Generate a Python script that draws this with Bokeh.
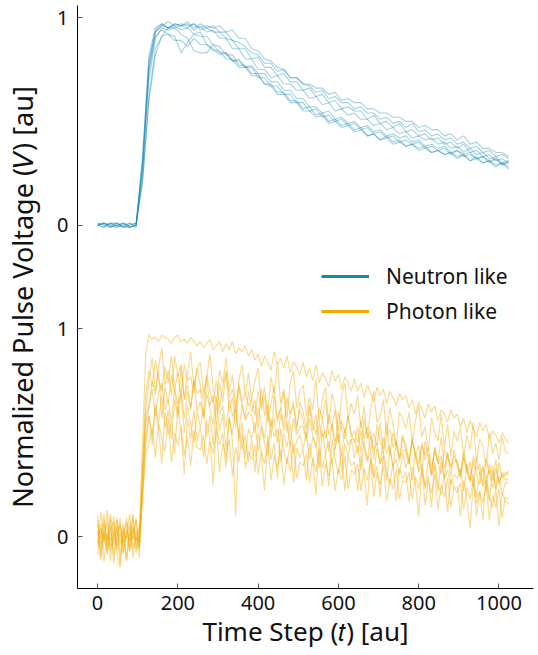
from bokeh.plotting import figure
from bokeh.models import Range1d, Legend, LegendItem, FixedTicker
from bokeh.embed import file_html
from bokeh.resources import INLINE

# ---------------- data ----------------
T_NEUTRON = list(range(0, 1025, 16))   # neutron pulses sampled every 16 steps
T_PHOTON = list(range(0, 1025, 8))     # photon pulses sampled every 8 steps
NEUTRON_OFFSET = 1.5                   # vertical stacking offset of the neutron panel

neutron_traces = [
    [0.00, 0.01, -0.01, 0.00, 0.01, -0.01, 0.00,
     0.33, 0.82, 0.95, 0.97, 0.95, 0.97, 0.96, 0.98, 0.95, 0.97, 0.95, 0.96, 0.93, 0.93, 0.89, 0.88,
     0.86, 0.83, 0.82, 0.78, 0.78, 0.74, 0.75, 0.71, 0.71, 0.68, 0.68, 0.66, 0.66, 0.63, 0.64, 0.60,
     0.61, 0.59, 0.59, 0.56, 0.56, 0.54, 0.54, 0.52, 0.52, 0.50, 0.50, 0.47, 0.48, 0.46, 0.46, 0.43,
     0.44, 0.41, 0.43, 0.39, 0.40, 0.37, 0.37, 0.35, 0.35, 0.33],
    [0.01, 0.00, 0.01, -0.01, 0.00, 0.01, -0.01,
     0.28, 0.75, 0.93, 0.96, 0.98, 0.96, 0.97, 0.96, 0.97, 0.95, 0.96, 0.95, 0.96, 0.93, 0.94, 0.90,
     0.90, 0.85, 0.84, 0.80, 0.79, 0.76, 0.75, 0.71, 0.71, 0.68, 0.67, 0.64, 0.65, 0.61, 0.62, 0.59,
     0.59, 0.56, 0.57, 0.54, 0.54, 0.51, 0.52, 0.49, 0.50, 0.47, 0.49, 0.45, 0.46, 0.43, 0.44, 0.41,
     0.42, 0.39, 0.40, 0.37, 0.38, 0.35, 0.36, 0.33, 0.34, 0.32],
    [0.00, -0.01, 0.01, 0.00, -0.01, 0.01, 0.00,
     0.22, 0.60, 0.82, 0.91, 0.95, 0.95, 0.96, 0.95, 0.97, 0.94, 0.95, 0.93, 0.93, 0.90, 0.89, 0.85,
     0.85, 0.80, 0.81, 0.76, 0.76, 0.72, 0.73, 0.69, 0.69, 0.65, 0.66, 0.62, 0.63, 0.59, 0.60, 0.56,
     0.57, 0.55, 0.55, 0.51, 0.53, 0.49, 0.50, 0.47, 0.49, 0.45, 0.46, 0.43, 0.44, 0.41, 0.42, 0.39,
     0.40, 0.37, 0.39, 0.35, 0.36, 0.33, 0.34, 0.31, 0.32, 0.30],
    [0.00, -0.01, 0.01, 0.01, 0.00, -0.01, 0.00,
     0.30, 0.78, 0.94, 0.97, 0.95, 0.97, 0.96, 0.97, 0.94, 0.96, 0.93, 0.94, 0.90, 0.90, 0.85, 0.85,
     0.80, 0.80, 0.75, 0.75, 0.71, 0.72, 0.68, 0.68, 0.65, 0.65, 0.61, 0.62, 0.58, 0.59, 0.55, 0.56,
     0.53, 0.54, 0.51, 0.51, 0.48, 0.49, 0.46, 0.47, 0.44, 0.45, 0.42, 0.43, 0.41, 0.42, 0.39, 0.40,
     0.37, 0.38, 0.35, 0.37, 0.34, 0.35, 0.32, 0.33, 0.30, 0.31],
    [0.00, 0.01, 0.00, -0.01, 0.01, -0.01, 0.00,
     0.25, 0.70, 0.90, 0.95, 0.94, 0.95, 0.92, 0.90, 0.84, 0.83, 0.83, 0.87, 0.83, 0.83, 0.79, 0.80,
     0.76, 0.76, 0.71, 0.71, 0.67, 0.67, 0.63, 0.63, 0.59, 0.59, 0.55, 0.56, 0.52, 0.53, 0.50, 0.51,
     0.48, 0.49, 0.46, 0.47, 0.44, 0.45, 0.42, 0.43, 0.40, 0.41, 0.39, 0.40, 0.37, 0.38, 0.36, 0.37,
     0.34, 0.36, 0.33, 0.34, 0.32, 0.33, 0.30, 0.32, 0.29, 0.30],
    [0.01, 0.00, -0.01, 0.01, -0.01, 0.00, 0.01,
     0.20, 0.62, 0.85, 0.91, 0.92, 0.89, 0.89, 0.86, 0.90, 0.87, 0.87, 0.84, 0.84, 0.80, 0.80, 0.76,
     0.76, 0.72, 0.72, 0.68, 0.67, 0.63, 0.63, 0.59, 0.59, 0.55, 0.55, 0.52, 0.53, 0.49, 0.50, 0.47,
     0.48, 0.45, 0.46, 0.43, 0.44, 0.41, 0.42, 0.39, 0.40, 0.38, 0.39, 0.36, 0.37, 0.35, 0.36, 0.34,
     0.35, 0.32, 0.34, 0.31, 0.32, 0.30, 0.31, 0.28, 0.30, 0.28],
    [0.00, 0.01, -0.01, 0.00, 0.01, 0.00, 0.01,
     0.27, 0.74, 0.91, 0.94, 0.92, 0.91, 0.83, 0.88, 0.92, 0.91, 0.91, 0.87, 0.86, 0.82, 0.82, 0.77,
     0.77, 0.73, 0.73, 0.68, 0.68, 0.64, 0.64, 0.60, 0.60, 0.56, 0.57, 0.53, 0.54, 0.50, 0.51, 0.48,
     0.49, 0.46, 0.47, 0.43, 0.44, 0.41, 0.43, 0.40, 0.41, 0.38, 0.39, 0.37, 0.38, 0.35, 0.36, 0.34,
     0.35, 0.33, 0.34, 0.31, 0.33, 0.30, 0.31, 0.29, 0.30, 0.27],
    [0.00, 0.01, 0.00, 0.01, -0.01, -0.01, 0.00,
     0.31, 0.79, 0.93, 0.96, 0.95, 0.96, 0.94, 0.95, 0.92, 0.93, 0.87, 0.85, 0.82, 0.83, 0.79, 0.79,
     0.76, 0.77, 0.73, 0.73, 0.69, 0.69, 0.65, 0.65, 0.61, 0.61, 0.57, 0.57, 0.54, 0.55, 0.51, 0.52,
     0.49, 0.50, 0.47, 0.48, 0.45, 0.46, 0.43, 0.44, 0.42, 0.43, 0.40, 0.41, 0.38, 0.39, 0.37, 0.38,
     0.35, 0.36, 0.34, 0.35, 0.32, 0.33, 0.31, 0.32, 0.29, 0.31],
]

# photon pulses, in hundredths of the normalized voltage
photon_traces_pct = [
    [3, -6, 8, -2, 5, -9, 3, 6, -4, 1, -7, 4, -2, 5, 45, 88,
     97, 95, 96, 94, 97, 96, 95, 93, 96, 97, 94, 95, 93, 96, 94, 92,
     94, 91, 93, 95, 90, 92, 94, 89, 93, 90, 94, 88, 91, 89, 92, 87,
     90, 85, 88, 82, 87, 84, 80, 89, 83, 86, 81, 87, 79, 84, 82, 78,
     84, 77, 81, 75, 83, 74, 79, 76, 72, 80, 75, 78, 71, 77, 74, 70,
     76, 70, 74, 67, 73, 69, 65, 72, 68, 71, 64, 70, 67, 63, 69, 66,
     68, 62, 66, 59, 65, 61, 57, 64, 60, 63, 56, 61, 59, 55, 61, 57,
     59, 53, 57, 50, 56, 52, 48, 55, 51, 54, 47, 51, 49, 45, 50, 47,
     45],
    [-5, 12, -2, 7, -12, 3, -4, 9, -8, 2, 11, -6, 0, -3, 30, 62,
     75, 86, 70, 82, 91, 73, 80, 68, 87, 77, 83, 66, 79, 89, 72, 81,
     84, 69, 77, 88, 71, 65, 80, 74, 86, 70, 78, 62, 75, 83, 68, 79,
     66, 75, 81, 63, 72, 59, 77, 69, 84, 64, 71, 57, 74, 80, 62, 70,
     73, 58, 67, 61, 76, 55, 66, 72, 54, 69, 63, 50, 68, 74, 57, 64,
     59, 68, 52, 63, 47, 61, 70, 55, 58, 66, 49, 62, 54, 44, 60, 57,
     52, 60, 45, 56, 63, 48, 53, 41, 57, 50, 46, 59, 43, 54, 39, 51,
     46, 53, 38, 49, 42, 55, 36, 47, 44, 33, 50, 40, 45, 37, 48, 41,
     40],
    [8, -10, 3, -6, 11, -2, 5, -13, 1, 7, -5, 10, -8, 4, 25, 55,
     62, 75, 68, 80, 57, 72, 64, 78, 70, 59, 82, 66, 73, 61, 76, 69,
     71, 58, 76, 63, 68, 54, 74, 65, 79, 60, 67, 52, 72, 63, 57, 70,
     60, 66, 52, 71, 58, 64, 47, 68, 55, 62, 70, 50, 59, 65, 53, 61,
     56, 48, 63, 51, 59, 44, 57, 66, 49, 54, 42, 60, 52, 47, 58, 50,
     45, 53, 40, 57, 48, 51, 37, 54, 46, 42, 55, 39, 50, 44, 36, 48,
     41, 35, 47, 39, 44, 32, 46, 38, 30, 43, 36, 48, 33, 40, 29, 42,
     34, 28, 39, 31, 36, 24, 38, 30, 33, 22, 35, 27, 37, 25, 31, 29,
     32],
    [-9, 4, -3, 13, -7, 1, 9, -4, 6, -11, 2, -1, 8, -6, 22, 48,
     58, 49, 64, 55, 68, 52, 61, 47, 66, 57, 70, 50, 63, 54, 45, 60,
     53, 62, 48, 58, 44, 65, 51, 59, 42, 57, 49, 63, 46, 55, 38, 52,
     47, 55, 41, 53, 45, 39, 57, 48, 52, 36, 50, 43, 54, 40, 46, 49,
     42, 50, 37, 48, 44, 33, 51, 40, 46, 35, 43, 49, 31, 45, 39, 47,
     38, 44, 32, 46, 36, 41, 29, 43, 35, 39, 27, 42, 34, 37, 30, 40,
     33, 38, 27, 40, 31, 35, 24, 37, 29, 34, 22, 36, 28, 32, 25, 30,
     28, 33, 22, 35, 26, 30, 19, 31, 24, 27, 17, 32, 23, 29, 20, 26,
     26],
    [2, -11, 6, -4, 9, -13, 0, 5, -8, 3, -2, 11, -6, 1, 18, 40,
     45, 52, 38, 55, 47, 41, 57, 36, 50, 44, 53, 39, 48, 34, 51, 43,
     42, 49, 35, 46, 40, 52, 31, 45, 38, 47, 29, 43, 36, 50, 33, 41,
     37, 44, 30, 41, 35, 46, 27, 39, 33, 42, 25, 38, 31, 45, 28, 36,
     34, 40, 26, 38, 31, 42, 24, 35, 29, 37, 22, 33, 27, 39, 23, 32,
     30, 35, 22, 33, 27, 37, 19, 31, 25, 34, 17, 28, 23, 32, 18, 27,
     26, 31, 18, 29, 23, 33, 15, 27, 21, 30, 13, 25, 19, 28, 14, 24,
     21, 26, 13, 24, 18, 28, 10, 22, 16, 25, 8, 20, 14, 23, 9, 19,
     18],
    [10, -4, 1, -9, 4, 7, -6, 2, -3, 9, -7, 5, -1, -10, 35, 68,
     80, 72, 85, 76, 70, 82, 74, 87, 71, 79, 68, 83, 75, 77, 69, 81,
     73, 66, 78, 70, 64, 75, 62, 72, 80, 67, 71, 60, 74, 65, 69, 63,
     66, 58, 70, 61, 68, 55, 64, 72, 57, 62, 53, 67, 59, 63, 51, 65,
     60, 52, 64, 55, 49, 62, 57, 47, 59, 53, 61, 45, 56, 50, 58, 48,
     51, 45, 56, 47, 53, 41, 50, 44, 55, 40, 48, 52, 43, 46, 38, 49,
     44, 37, 47, 40, 35, 45, 39, 43, 33, 41, 36, 30, 42, 38, 34, 39,
     35, 29, 38, 31, 27, 36, 30, 25, 34, 28, 32, 23, 33, 26, 30, 27,
     28],
    [-3, 6, -12, 2, -5, 10, -8, -15, 4, -1, 7, -10, 3, -6, 20, 45,
     58, 44, 62, 52, 35, 60, 49, 55, 40, 63, 51, 30, 57, 47, 61, 46,
     53, 38, 56, 47, 25, 55, 44, 50, 33, 58, 46, 10, 52, 42, 49, 36,
     47, 31, 50, 40, 22, 49, 37, 45, 28, 52, 41, 35, 46, 26, 43, 38,
     42, 27, 45, 36, 20, 44, 33, 40, 24, 47, 37, 30, 41, 22, 39, 34,
     36, 22, 39, 30, 15, 38, 28, 34, 19, 41, 31, 25, 35, 17, 33, 28,
     31, 17, 34, 25, 10, 33, 23, 29, 14, 36, 26, 20, 30, 12, 28, 24,
     24, 10, 27, 18, 4, 26, 16, 22, 8, 29, 19, 14, 23, 5, 21, 17,
     16],
    [6, -1, 11, -7, 0, -4, 8, -9, 3, -12, 5, -2, 9, -5, 28, 58,
     63, 71, 58, 69, 74, 61, 66, 55, 72, 64, 68, 57, 70, 62, 75, 60,
     65, 57, 69, 61, 54, 67, 59, 63, 52, 66, 58, 62, 50, 64, 56, 60,
     58, 50, 62, 54, 47, 60, 53, 57, 45, 59, 51, 55, 44, 57, 49, 53,
     53, 46, 57, 49, 43, 55, 48, 51, 41, 54, 46, 50, 39, 52, 44, 47,
     47, 40, 51, 43, 37, 49, 42, 45, 35, 48, 40, 44, 33, 46, 38, 41,
     42, 35, 46, 38, 32, 44, 37, 40, 30, 43, 35, 39, 28, 41, 33, 36,
     37, 30, 41, 33, 27, 39, 32, 35, 25, 38, 30, 34, 23, 36, 28, 31,
     30],
]

x_ticks = [0, 200, 400, 600, 800, 1000]
y_ticks = [0, 1, 1.5, 2.5]
y_tick_labels = ["0", "1", "0", "1"]
series_labels = ["Neutron like", "Photon like"]

NEUTRON_COLOR = "#1287b3"
PHOTON_COLOR = "#f2aa00"
FONT = "Noto Sans"

# ---------------- figure ----------------
p = figure(width=538, height=655, output_backend="svg", toolbar_location=None,
           x_range=Range1d(-50, 1086), y_range=Range1d(-0.25, 2.558),
           min_border_left=77, min_border_right=5, min_border_top=5, min_border_bottom=67)
p.grid.visible = False
p.outline_line_color = None
p.background_fill_color = "white"
p.border_fill_color = "white"

for tr in photon_traces_pct:
    p.line(T_PHOTON[:len(tr)], [v / 100.0 for v in tr],
           line_color=PHOTON_COLOR, line_alpha=0.42, line_width=1.2)
for tr in neutron_traces:
    p.line(T_NEUTRON[:len(tr)], [v + NEUTRON_OFFSET for v in tr],
           line_color=NEUTRON_COLOR, line_alpha=0.38, line_width=1.1)

# legend proxies (a single undefined point each, so nothing is drawn in the plot)
nan = float("nan")
rn = p.line([nan], [nan], line_color=NEUTRON_COLOR, line_width=3)
rp = p.line([nan], [nan], line_color=PHOTON_COLOR, line_width=3)
legend = Legend(items=[LegendItem(label=series_labels[0], renderers=[rn]),
                       LegendItem(label=series_labels[1], renderers=[rp])],
                location=(244, 263), padding=0, margin=0, spacing=7,
                glyph_width=48, glyph_height=20, label_height=20, label_standoff=17,
                label_text_font=FONT, label_text_font_size="21px", label_text_color="#111111",
                border_line_color=None, background_fill_alpha=0)
p.add_layout(legend)

# axes
for ax in (p.xaxis[0], p.yaxis[0]):
    ax.axis_line_color = "black"
    ax.axis_line_width = 1
    ax.major_tick_in = 5
    ax.major_tick_out = 0
    ax.major_tick_line_color = "#555555"
    ax.minor_tick_line_color = None
    ax.major_label_text_font = FONT
    ax.major_label_text_font_size = "20px"
    ax.major_label_text_color = "#111111"
    ax.axis_label_text_font = FONT
    ax.axis_label_text_font_style = "normal"
    ax.axis_label_text_color = "#111111"

p.xaxis.ticker = FixedTicker(ticks=x_ticks)
p.xaxis.major_label_standoff = 7
p.xaxis.axis_label = "Time Step (\U0001D461) [au]"
p.xaxis.axis_label_text_font_size = "26px"
p.xaxis.axis_label_standoff = 0

p.yaxis.ticker = FixedTicker(ticks=y_ticks)
p.yaxis.major_label_overrides = {t: s for t, s in zip(y_ticks, y_tick_labels)}
p.yaxis.major_label_standoff = 9
p.yaxis.axis_label = "Normalized Pulse Voltage (\U0001D449) [au]"
p.yaxis.axis_label_text_font_size = "27px"
p.yaxis.axis_label_standoff = 13

open("out.html", "w").write(file_html(p, INLINE))
